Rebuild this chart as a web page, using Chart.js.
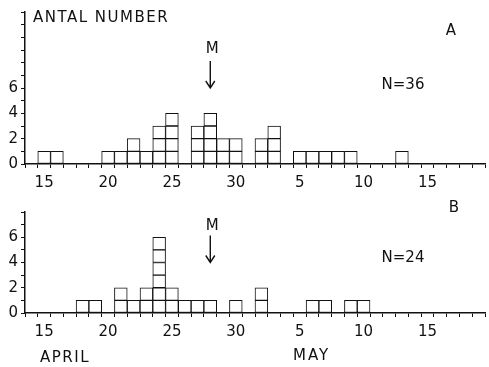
<!DOCTYPE html>
<html>
<head>
<meta charset="utf-8">
<script src="https://cdn.jsdelivr.net/npm/chart.js@4"></script>
<style>
  body { margin: 0; background: #fff; }
  .panel { position: absolute; left: 0; width: 489px; }
</style>
</head>
<body>
<div class="panel" style="top:0;height:195px"><canvas id="chartA"></canvas></div>
<div class="panel" style="top:195px;height:172px"><canvas id="chartB"></canvas></div>
<script>
// days from 14 April to 19 May
const days = ['14','15','16','17','18','19','20','21','22','23','24','25','26','27','28','29','30',
  '1','2','3','4','5','6','7','8','9','10','11','12','13','14','15','16','17','18','19'];

// number of individuals per day (one square each)
const countsA = [0,1,1,0,0,0,1,1,2,1,3,4,0,3,4,2,2,
  0,2,3,0,1,1,1,1,1,0,0,0,1,0,0,0,0,0,0];
const countsB = [0,0,0,0,1,1,0,2,1,2,6,2,1,1,1,0,1,
  0,2,0,0,0,1,1,0,1,1,0,0,0,0,0,0,0,0,0];

const yLabels = [0, 2, 4, 6];
const meanDayIndex = 14; // 28 April

const ink = '#111';
const font = '"DejaVu Sans", sans-serif';

function notesPlugin(cfg) {
  return {
    id: 'notes',
    afterDraw(chart) {
      const ctx = chart.ctx;
      ctx.save();
      ctx.fillStyle = ink;
      ctx.strokeStyle = ink;
      ctx.textBaseline = 'middle';
      cfg.texts.forEach(t => {
        ctx.font = t.size + 'px ' + font;
        ctx.letterSpacing = (t.spacing || 0) + 'px';
        ctx.textAlign = t.align || 'left';
        ctx.fillText(t.text, t.x, t.y);
      });
      // M arrow at the mean date
      const x = chart.scales.x.getPixelForValue(meanDayIndex);
      const tip = chart.scales.y.getPixelForValue(cfg.arrowTip);
      ctx.letterSpacing = '0px';
      ctx.font = '15px ' + font;
      ctx.textAlign = 'center';
      ctx.fillText('M', x + 2, tip - cfg.mGap);
      ctx.lineWidth = 1.4;
      ctx.beginPath();
      ctx.moveTo(x, tip - 27);
      ctx.lineTo(x, tip);
      ctx.moveTo(x - 4.5, tip - 7);
      ctx.lineTo(x, tip);
      ctx.lineTo(x + 4.5, tip - 7);
      ctx.stroke();
      ctx.restore();
    }
  };
}

function makeChart(id, counts, yMax, cfg) {
  const layers = [];
  const top = Math.max(...counts);
  for (let k = 1; k <= top; k++) {
    layers.push({
      data: counts.map(c => c >= k ? 1 : null),
      backgroundColor: '#fff',
      borderColor: ink,
      borderWidth: 1,
      borderSkipped: false,
      barPercentage: 1,
      categoryPercentage: 1,
      stack: 's'
    });
  }
  return new Chart(document.getElementById(id), {
    type: 'bar',
    data: { labels: days, datasets: layers },
    options: {
      responsive: true,
      maintainAspectRatio: false,
      animation: false,
      layout: { padding: { top: cfg.padTop, bottom: cfg.padBottom, left: 0, right: 4 } },
      plugins: { legend: { display: false }, tooltip: { enabled: false } },
      scales: {
        x: {
          stacked: true,
          grid: { offset: true, drawOnChartArea: false, tickLength: 4, color: ink },
          border: { color: ink, width: 1.5 },
          ticks: {
            autoSkip: false, maxRotation: 0, padding: 6, color: ink,
            font: { family: font, size: 15 },
            callback: (v, i) => Number(days[i]) % 5 === 0 ? days[i] : ''
          },
          afterFit: s => { s.height = cfg.xHeight; }
        },
        y: {
          stacked: true,
          min: 0,
          max: yMax,
          grid: { drawOnChartArea: false, tickLength: 4, color: ink },
          border: { color: ink, width: 1.5 },
          ticks: {
            stepSize: 1, autoSkip: false, padding: 3, color: ink,
            font: { family: font, size: 15 },
            callback: v => yLabels.includes(v) ? v : ''
          },
          afterFit: s => { s.width = 25; }
        }
      }
    },
    plugins: [notesPlugin(cfg)]
  });
}

makeChart('chartA', countsA, 12, {
  padTop: 12, padBottom: 0, xHeight: 31, arrowTip: 6, mGap: 39,
  texts: [
    { text: 'ANTAL NUMBER', x: 33, y: 18, size: 15, spacing: 1.5 },
    { text: 'A', x: 451, y: 31, size: 15, align: 'center' },
    { text: 'N=36', x: 403, y: 85, size: 15, align: 'center' }
  ]
});

makeChart('chartB', countsB, 8, {
  padTop: 17, padBottom: 25, xHeight: 29, arrowTip: 4, mGap: 36,
  texts: [
    { text: 'B', x: 454, y: 13, size: 15, align: 'center' },
    { text: 'N=24', x: 403, y: 63, size: 15, align: 'center' },
    { text: 'APRIL', x: 40, y: 163, size: 15, spacing: 1.5 },
    { text: 'MAY', x: 293, y: 161, size: 15, spacing: 2 }
  ]
});
</script>
</body>
</html>
